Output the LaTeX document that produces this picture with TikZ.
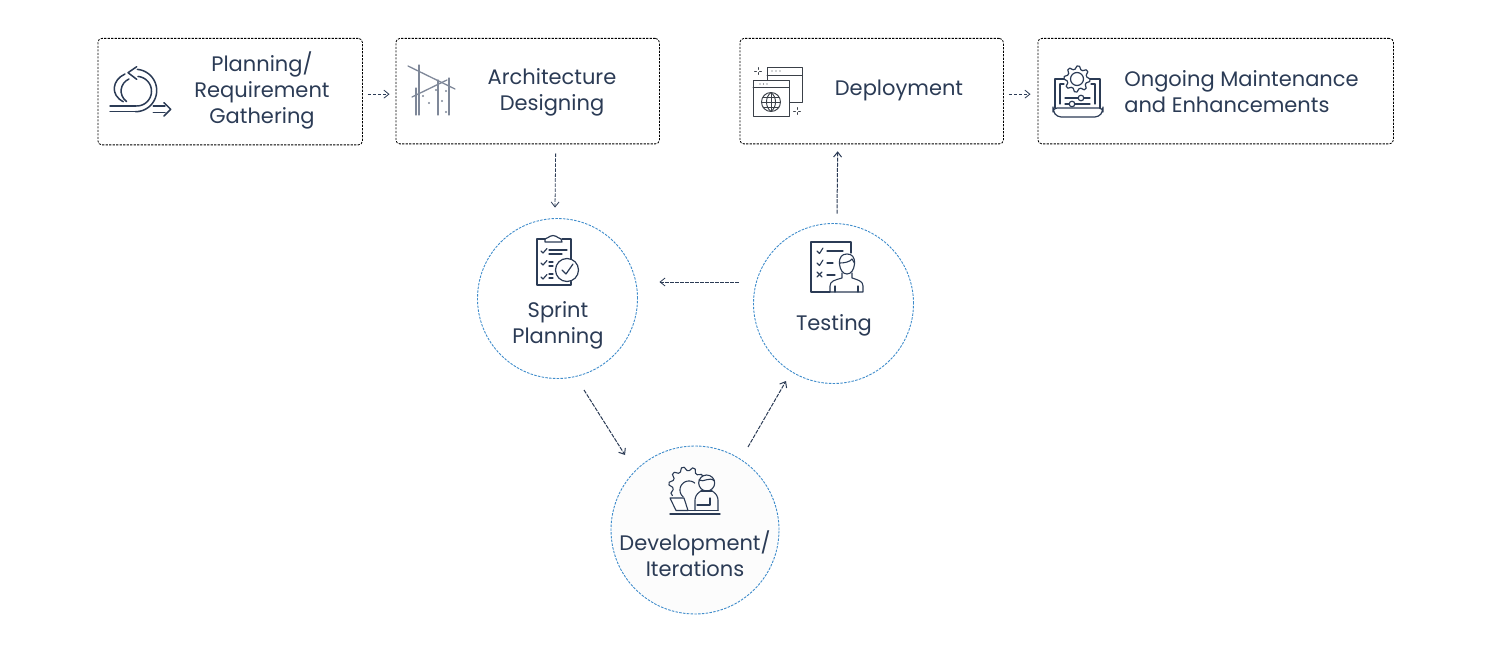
\documentclass[tikz,border=0pt]{standalone}
\usepackage{fontspec}
\setmainfont{Poppins}
\usetikzlibrary{calc,arrows.meta}
\definecolor{ink}{HTML}{2B3B55}
\definecolor{ring}{HTML}{3F8CCB}
\definecolor{steelg}{HTML}{7F8899}
\definecolor{winc}{HTML}{3A4048}
\newcommand{\parc}[6][]{\draw[#1] plot[domain=#5:#6,samples=40,smooth] ({#2+#4*cos(\x)},{#3+#4*sin(\x)});}
% [opts]{cx}{cy}{rout}{rin}{teeth}{from}{to}
\newcommand{\gearp}[8][]{\pgfmathsetmacro{\gs}{int(round((#8-#7)/(90/#6))+1)}\draw[#1] plot[domain=#7:#8,samples=\gs] ({#2+(mod(round((\x)/(90/#6)),4)<1.5?#4:#5)*cos(\x)},{#3+(mod(round((\x)/(90/#6)),4)<1.5?#4:#5)*sin(\x)});}
\tikzset{
  x=1pt,y=-1pt,
  boxn/.style={draw=black,rounded corners=4pt,dash pattern=on 2.2pt off 1.3pt,line width=0.8pt,inner sep=0pt,anchor=north west},
  circn/.style={circle,draw=ring,dash pattern=on 2.5pt off 1.3pt,line width=0.9pt,inner sep=0pt},
  lbl/.style={text=ink,align=center,font=\fontsize{21}{26}\selectfont,inner sep=0pt},
  arr/.style={draw=ink,dash pattern=on 4pt off 1.2pt,line width=1pt,-{Straight Barb[length=5pt,width=8pt]}},
  arrs/.style={draw=ink,dash pattern=on 3.5pt off 1.5pt,line width=0.8pt,-{Straight Barb[length=5pt,width=8pt]}},
  ic/.style={draw=ink,line width=1.3pt,line cap=round,line join=round},
  ig/.style={draw=steelg,line width=1.3pt,line cap=round}
}
\begin{document}
\begin{tikzpicture}
\useasboundingbox (0,0) rectangle (1500,650);
% boxes
\node[boxn,minimum width=264.5pt,minimum height=106.5pt] (b1) at (97.5,38) {};
\node[boxn,minimum width=263.5pt,minimum height=105.5pt] (b2) at (395.5,38) {};
\node[boxn,minimum width=263.5pt,minimum height=105.5pt] (b3) at (739.5,38) {};
\node[boxn,minimum width=355.5pt,minimum height=105.5pt] (b4) at (1037.5,38) {};
% circles
\node[circn,minimum size=160pt] (sprint) at (557.5,298.5) {};
\node[circn,minimum size=160pt] (testing) at (833.5,303.5) {};
\node[circn,fill=black!1,minimum size=168pt] (dev) at (695,530) {};
% labels
\node[lbl] (t1) at (262,90) {Planning/\\Requirement\\Gathering};
\node[lbl] (t2) at (552,92) {Architecture\\Designing};
\node[lbl] (t3) at (899,90.5) {Deployment};
\node[lbl,align=left] (t4) at (1241.5,92) {Ongoing Maintenance\\and Enhancements};
\node[lbl] (t5) at (558,325) {Sprint\\Planning};
\node[lbl] (t6) at (834,325.5) {Testing};
\node[lbl] (t7) at (695,553.5) {Development/\\Iterations};
% connectors
\draw[arrs] ($(b1.east)+(5,2.5)$) -- ($(b2.west)+(-6,3)$);
\draw[arrs] ($(b3.east)+(5,3)$) -- ($(b4.west)+(-7,3)$);
\draw[arrs] ($(b2.south)+(28,9)$) -- ($(sprint.north)+(-2.5,-10.5)$);
\draw[arr] ($(testing.north)+(3.5,-9.5)$) -- ($(b3.south)+(-34,7)$);
\draw[arrs] ($(testing.west)+(-14.5,-21.5)$) -- ($(sprint.east)+(21.5,-16.5)$);
\draw[arr] ($(sprint.center)+(26.5,91.5)$) -- ($(dev.center)+(-70,-75)$);
\draw[arr] ($(dev.center)+(53,-83)$) -- ($(testing.center)+(-47.5,77.5)$);
% icon 1: loop
\begin{scope}[ic,line width=1.5pt]
\draw (110,106) -- (136,106); \draw (110,111.7) -- (135.5,111.7);
\parc[ic,line width=1.5pt]{136.7}{91.2}{14.8}{90}{-85}
\parc[ic,line width=1.5pt]{135.5}{90.5}{21.2}{90}{-85}
\draw (125,74) .. controls (112,80) and (110,95) .. (123.3,101.7);
\draw (129,79) .. controls (120,83) and (118,95) .. (126.7,101.7);
\draw (136.7,66.7) -- (128,72.7) -- (136.7,79.3);
\draw (153.3,106) -- (165,106); \draw (153.3,112.7) -- (165,112.7);
\draw (164,102.7) -- (170.7,109.3) -- (164,116);
\end{scope}
% icon 2: architecture
\begin{scope}[ig]
\draw (408,66) -- (455,89); \draw (412,97) -- (447,80);
\draw (419,65) -- (419,115); \draw (416,88) -- (416,115);
\draw (438,80) -- (438,115); \draw (449,78) -- (449,115);
\foreach \p in {(423,96),(429,103),(436,90),(442,101),(446,91),(446,112)} \fill[steelg] \p circle[radius=1.1pt];
\end{scope}
% icon 3: deployment
\begin{scope}[ic,draw=winc,line width=0.95pt]
\draw (767,80) -- (767,67) -- (802,67) -- (802,102) -- (790,102);
\draw (767,75) -- (802,75);
\draw (753,80) rectangle (789,116);
\draw (753,87) -- (789,87);
\foreach \x in {760,763.5,767} \fill[winc] (\x,84) circle[radius=0.6pt];
\foreach \x in {772,776,780} \fill[winc] (\x,71) circle[radius=0.6pt];
\draw (771,102) circle[radius=9.5pt];
\draw (761.5,102) -- (780.5,102); \draw (771,92.5) -- (771,111.5);
\draw (763,97) -- (779,97); \draw (763,107) -- (779,107);
\draw (771,92.5) .. controls (765,97) and (765,107) .. (771,111.5);
\draw (771,92.5) .. controls (777,97) and (777,107) .. (771,111.5);
\foreach \c/\d in {758/71,797/111} {
\draw (\c-3.5,\d) -- (\c-1.5,\d); \draw (\c+1.5,\d) -- (\c+3.5,\d);
\draw (\c,\d-3.5) -- (\c,\d-1.5); \draw (\c,\d+1.5) -- (\c,\d+3.5);}
\end{scope}
% icon 4: laptop and gear
\begin{scope}[ic,line width=1.2pt]
\gearp[ic,line width=1.2pt]{1077}{79}{13}{10}{8}{0}{360}
\draw (1077,79) circle[radius=6.5pt];
\draw (1064,79) -- (1055,79) -- (1055,108); \draw (1090,79) -- (1100,79) -- (1100,108);
\draw (1060,84) -- (1060,104); \draw (1060,84) -- (1064,84); \draw (1095,84) -- (1095,104); \draw (1095,84) -- (1091,84);
\draw[rounded corners=4pt] (1053,108) -- (1103,108) -- (1103,111) -- (1099,117) -- (1057,117) -- (1053,111) -- cycle;
\draw (1065,98) -- (1078,98); \draw (1084,98) -- (1090,98); \draw (1081,98) circle[radius=2.8pt];
\draw (1065,104) -- (1069,104); \draw (1075,104) -- (1090,104); \draw (1072,104) circle[radius=2.8pt];
\end{scope}
% icon 5: sprint clipboard
\begin{scope}[ic,line width=1.2pt]
\draw (562,239) -- (571,239) -- (571,259);
\draw (545,239) -- (537,239) -- (537,285) -- (571,285) -- (571,281.5);
\draw (545,242) -- (562,242) -- (561,239) .. controls (558,239) and (558,236) .. (553,235.5) .. controls (548,236) and (548,239) .. (545,239) -- cycle;
\foreach \y in {251,263,277} \draw (541,\y) -- (543,\y+2) -- (547,\y-2.5);
\draw (549,250) -- (567,250); \draw (549,254) -- (562,254);
\draw (549,262) -- (553,262); \draw (549,266) -- (553,266);
\draw (549,274) -- (553,274); \draw (549,278) -- (553,278);
\draw (567,270) circle[radius=11.5pt];
\draw (562,270) -- (566,274) -- (573,264);
\end{scope}
% icon 6: testing person
\begin{scope}[ic,line width=1.1pt]
\draw (851,253) -- (851,242) -- (811,242) -- (811,292) -- (830,292);
\foreach \y in {251,263} \draw (817,\y) -- (819.5,\y+2.5) -- (823,\y-3);
\draw (817,272) -- (822,277); \draw (822,272) -- (817,277);
\draw (827,251) -- (843,251); \draw (827,263) -- (833,263); \draw (827,275) -- (835,275);
\draw[fill=white] (839.5,264) .. controls (839,257) and (842,254) .. (847,254) .. controls (852,254) and (855,257) .. (854.5,264) .. controls (854,270) and (851,274) .. (847,274) .. controls (843,274) and (840,270) .. (839.5,264) -- cycle;
\draw (840,263) .. controls (844,263) and (850,262) .. (852,259) .. controls (853,261) and (854,262) .. (854.5,263);
\draw (842,273) -- (842,278) .. controls (835,280) and (830,281) .. (830,286) -- (830,292) -- (863,292) -- (863,286) .. controls (863,281) and (858,280) .. (852,278) -- (852,273);
\draw (835,292) -- (835,286); \draw (858,292) -- (858,286);
\end{scope}
% icon 7: development
\begin{scope}[ic,line width=1.1pt]
\gearp[ic,line width=1.1pt]{687}{485}{18}{14.5}{10}{144}{342}
\parc[ic,line width=1.1pt]{689}{490}{9}{130}{310}
\draw[fill=black!1] (706.7,483) circle[radius=8pt];
\draw (699,480) .. controls (704,483) and (709,476) .. (714.5,481);
\draw[rounded corners=5pt] (695,510.5) -- (695,495) -- (701,491) ;
\draw[rounded corners=5pt] (712,491) -- (718,495) -- (718,510.5);
\draw (701,491) -- (712,491);
\draw (697,505) -- (710,505) -- (710,498);
\draw (688,510.5) -- (718,510.5);
\draw[fill=white] (670,498) -- (684,498) -- (688,510.5) -- (676,510.5) -- cycle;
\draw[line width=1.4pt] (670,514) -- (720,514);
\end{scope}
\end{tikzpicture}
\end{document}
